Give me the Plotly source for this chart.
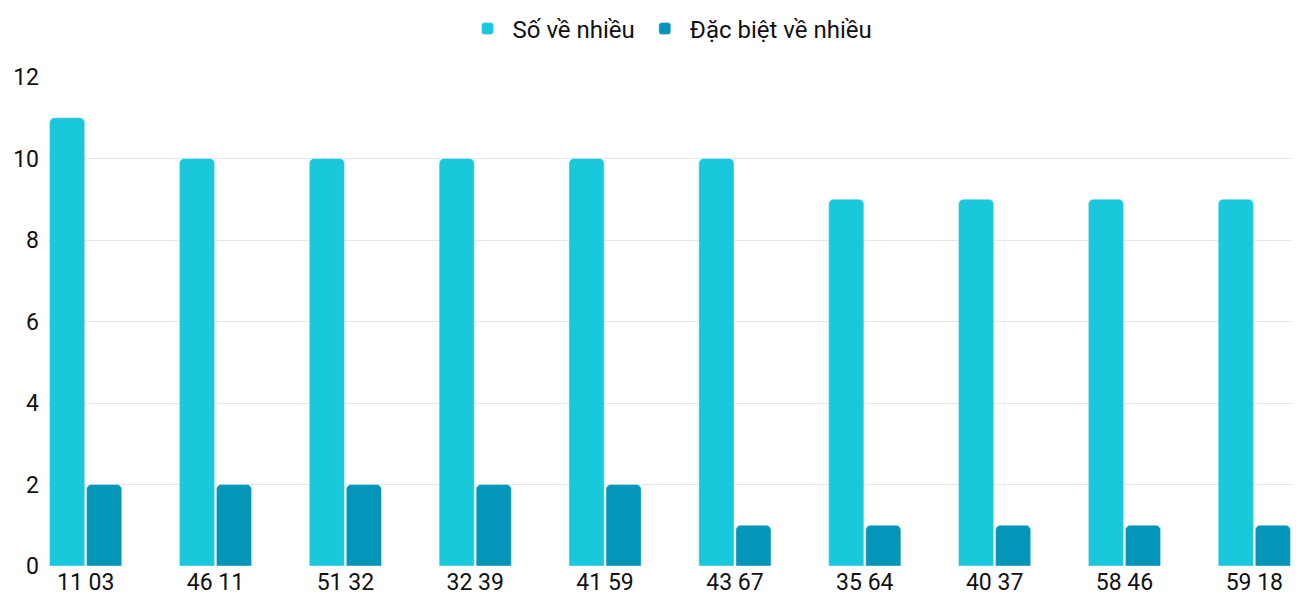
import plotly.graph_objects as go

categories = ["11 03", "46 11", "51 32", "32 39", "41 59", "43 67", "35 64", "40 37", "58 46", "59 18"]
so_ve_nhieu = [11, 10, 10, 10, 10, 10, 9, 9, 9, 9]
dac_biet = [2, 2, 2, 2, 2, 1, 1, 1, 1, 1]

fig = go.Figure()
fig.add_bar(x=categories, y=so_ve_nhieu, name="Số về nhiều", marker=dict(color="#1ac8db", cornerradius=5))
fig.add_bar(x=categories, y=dac_biet, name="Đặc biệt về nhiều", marker=dict(color="#0396b8", cornerradius=5))
fig.update_layout(
    width=1284, height=584, barmode="group", bargap=0.43, bargroupgap=0.05,
    margin=dict(l=40, r=0, t=69, b=26, autoexpand=False),
    plot_bgcolor="white", paper_bgcolor="white",
    font=dict(family="Roboto", size=23, color="#111"),
    legend=dict(orientation="h", x=0.5, xanchor="center", yref="container", y=0.964, yanchor="middle",
                font=dict(size=24), itemwidth=40),
    xaxis=dict(range=[-0.29, 9.29], showgrid=False, ticks="", showline=False),
    yaxis=dict(range=[0, 12], dtick=2, gridcolor="#e6e6e6", zeroline=False, ticks="", ticklabelstandoff=8),
)
fig.write_html("out.html")
